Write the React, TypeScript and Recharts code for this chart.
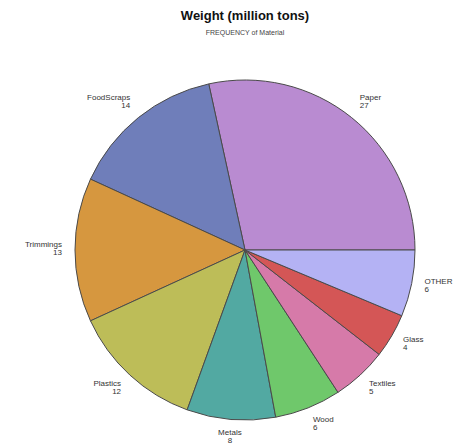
import React from "react";
import { PieChart, Pie, Cell } from "recharts";

const materials = ["Paper", "FoodScraps", "Trimmings", "Plastics", "Metals", "Wood", "Textiles", "Glass", "OTHER"];
const frequencies = [27, 14, 13, 12, 8, 6, 5, 4, 6];
const colors = ["#b98bd1", "#6f7eba", "#d6973f", "#bdbd58", "#52a9a2", "#6fc86b", "#d67aa9", "#d45656", "#b4b2f4"];

const data = materials.map((name, i) => ({ name, value: frequencies[i] }));

const RAD = Math.PI / 180;

const renderLabel = (props: any) => {
  const { cx, cy, midAngle, outerRadius, name, value } = props;
  const c = Math.cos(-midAngle * RAD);
  const s = Math.sin(-midAngle * RAD);
  const x = cx + (outerRadius + 13) * c;
  const y = cy + (outerRadius + 19) * s - 2;
  const anchor = c > 0.2 ? "start" : c < -0.2 ? "end" : "middle";
  return (
    <text
      x={x}
      y={y}
      textAnchor={anchor}
      fontFamily="Liberation Sans, Arial, sans-serif"
      fontSize={8}
      fill="#333"
    >
      <tspan x={x} dy={-1}>{name}</tspan>
      <tspan x={x} dy={8}>{value}</tspan>
    </text>
  );
};

export default function App() {
  return (
    <div style={{ position: "absolute", left: 0, top: 0, width: 455, height: 448, background: "#fff" }}>
      <div
        style={{
          position: "absolute",
          left: 0,
          top: 8,
          width: 490,
          textAlign: "center",
          fontFamily: "Liberation Sans, Arial, sans-serif",
          fontWeight: "bold",
          fontSize: 13,
          color: "#111",
        }}
      >
        Weight (million tons)
      </div>
      <div
        style={{
          position: "absolute",
          left: 0,
          top: 29,
          width: 490,
          textAlign: "center",
          fontFamily: "Liberation Sans, Arial, sans-serif",
          fontSize: 7,
          color: "#444",
        }}
      >
        FREQUENCY of Material
      </div>
      <div style={{ position: "absolute", left: 0, top: 0 }}>
        <PieChart width={455} height={448}>
          <Pie
            data={data}
            dataKey="value"
            nameKey="name"
            cx={240}
            cy={245}
            outerRadius={170}
            startAngle={0}
            endAngle={360}
            stroke="#4a4a4a"
            strokeWidth={1}
            label={renderLabel}
            labelLine={false}
            isAnimationActive={false}
          >
            {data.map((d, i) => (
              <Cell key={d.name} fill={colors[i]} />
            ))}
          </Pie>
        </PieChart>
      </div>
    </div>
  );
}
